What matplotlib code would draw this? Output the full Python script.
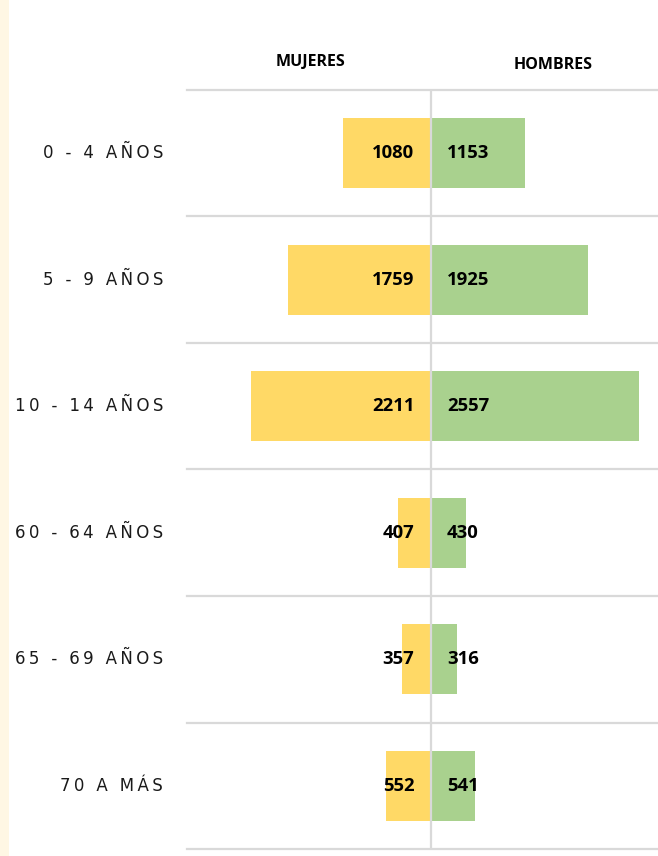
import matplotlib.pyplot as plt
import matplotlib.transforms as mtransforms
from matplotlib.patches import Rectangle

# Datos de la pirámide
categorias = ['0 - 4 AÑOS', '5 - 9 AÑOS', '10 - 14 AÑOS', '60 - 64 AÑOS', '65 - 69 AÑOS', '70 A MÁS']
mujeres = [1080, 1759, 2211, 407, 357, 552]
hombres = [1153, 1925, 2557, 430, 316, 541]

color_muj = '#FFD966'
color_hom = '#A9D18E'
color_grid = '#D9D9D9'

W, H = 658, 856
fig = plt.figure(figsize=(W / 100, H / 100), dpi=100)
fig.patch.set_facecolor('white')

# franja crema a la izquierda
fig.patches.append(Rectangle((0, 0), 9 / W, 1, transform=fig.transFigure,
                             facecolor='#FFF7E4', edgecolor='none', zorder=0))

ax = fig.add_axes([187 / W, 1 - 849 / H, (W - 187) / W, (849 - 90) / H])
y = list(range(len(categorias)))

ax.barh(y, [-m for m in mujeres], height=0.55, color=color_muj, zorder=2)
ax.barh(y, hombres, height=0.55, color=color_hom, zorder=2)

ax.set_xlim(-3000, 2790)
ax.set_ylim(len(categorias) - 0.5, -0.5)

# líneas horizontales y eje central
for b in range(len(categorias) + 1):
    ax.axhline(b - 0.5, color=color_grid, lw=1.6, zorder=1, clip_on=False)
ax.axvline(0, color=color_grid, lw=1.6, zorder=3)

for s in ax.spines.values():
    s.set_visible(False)
ax.set_xticks([])
ax.set_yticks([])

# valores
for i in y:
    ax.text(-205, i, str(mujeres[i]), ha='right', va='center', fontsize=13.3,
            fontweight='bold', family='Open Sans', color='black', zorder=4)
    ax.text(195, i, str(hombres[i]), ha='left', va='center', fontsize=13.3,
            fontweight='bold', family='Open Sans', color='black', zorder=4)

# etiquetas de categoría con espaciado
trans = mtransforms.blended_transform_factory(fig.transFigure, ax.transData)
for i, c in enumerate(categorias):
    spaced = '\u2009'.join(c)
    ax.text(163 / W, i, spaced, transform=trans, ha='right', va='center',
            fontsize=12, family='DejaVu Sans', color='#1A1A1A')

# encabezados
ax.text(-1476, -0.5 - 0.22, 'MUJERES', ha='center', va='center', fontsize=11.5,
        fontweight='bold', family='Open Sans', color='black')
ax.text(1500, -0.5 - 0.2, 'HOMBRES', ha='center', va='center', fontsize=11.5,
        fontweight='bold', family='Open Sans', color='black')

fig.savefig('out.png', dpi=100)
